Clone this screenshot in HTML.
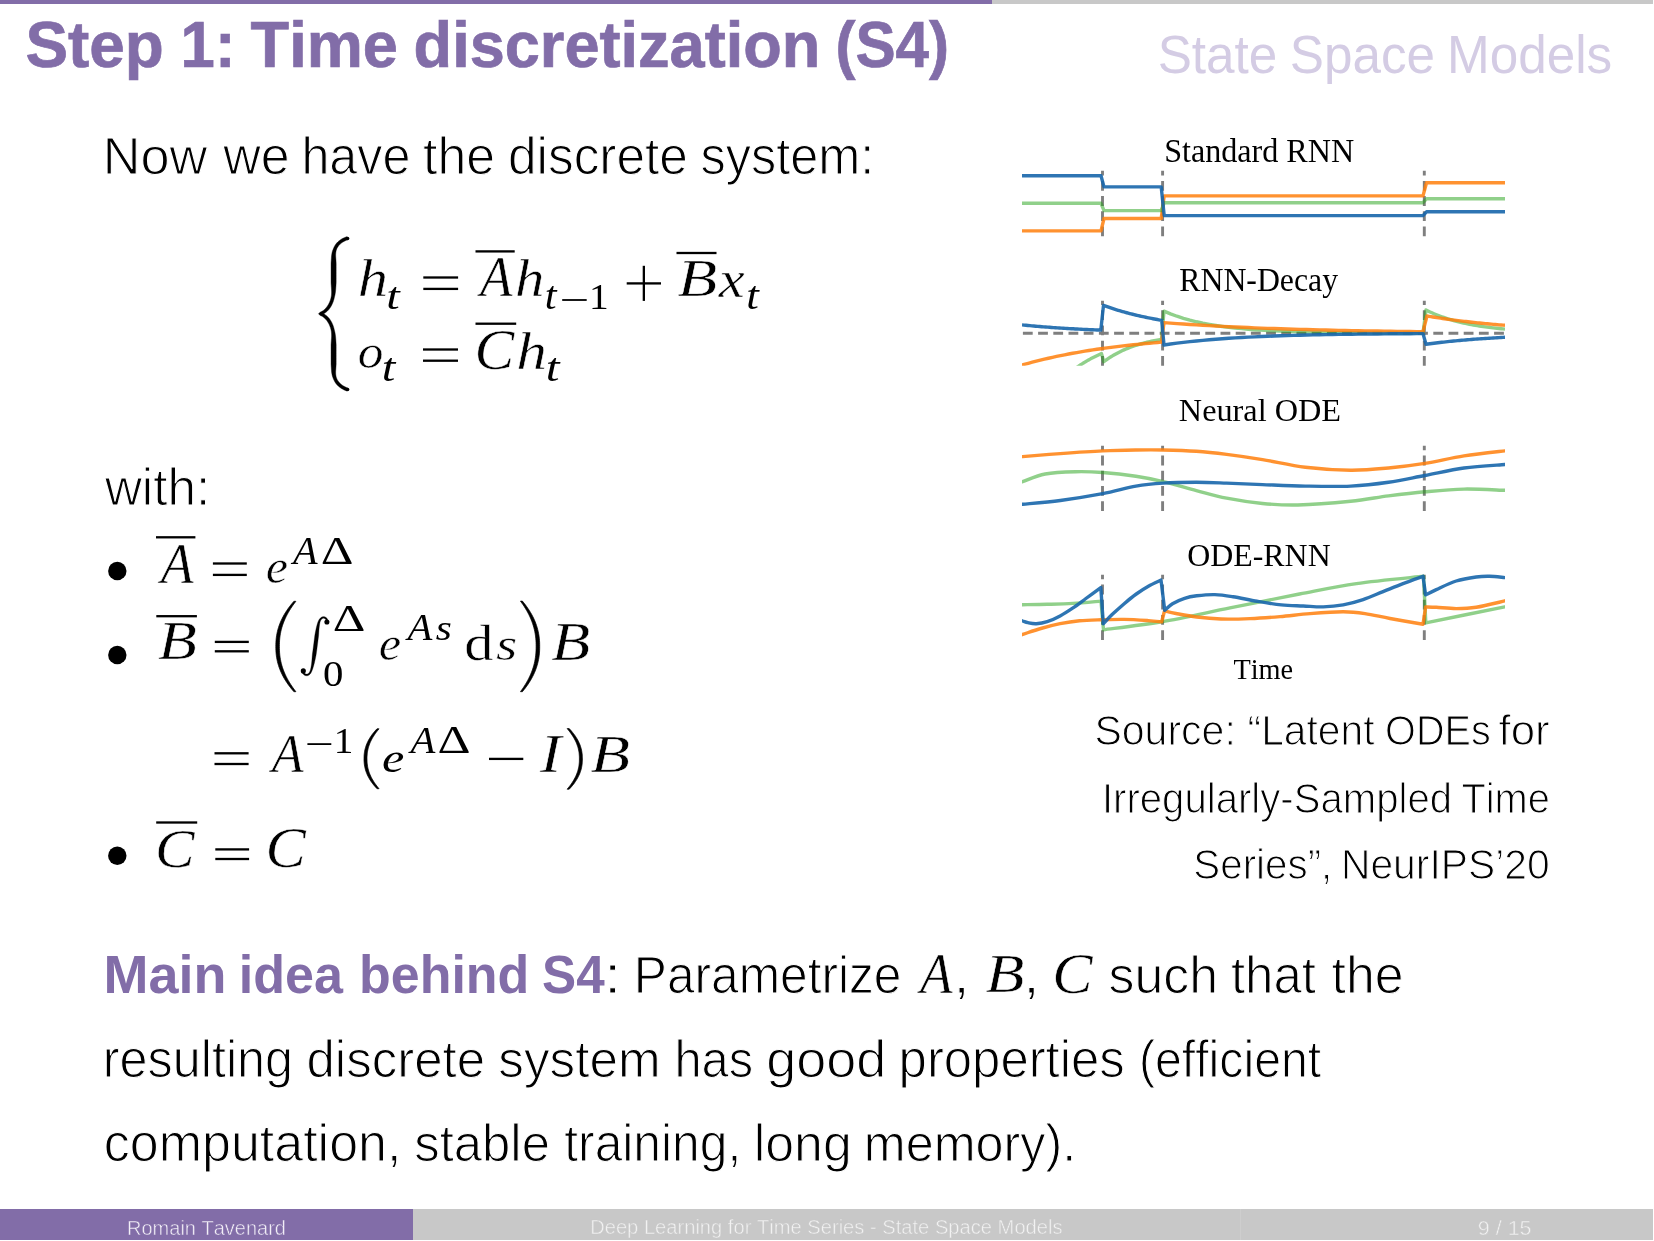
<!DOCTYPE html>
<html><head><meta charset="utf-8"><title>Step 1: Time discretization (S4)</title>
<style>
html,body{margin:0;padding:0;background:#fff;}
body{width:1654px;height:1241px;overflow:hidden;}
svg{display:block;will-change:transform;}
text{font-kerning:none;font-variant-ligatures:none;}
</style></head><body>
<svg width="1654" height="1241" viewBox="0 0 1654 1241">
<rect width="1654" height="1241" fill="#fff"/>
<rect x="0" y="0" width="992" height="4" fill="#826DA8"/>
<rect x="992" y="0" width="661" height="4" fill="#C8C8C8"/>
<rect x="0" y="1209" width="413" height="31" fill="#826DA8"/>
<rect x="413" y="1209" width="1240" height="31" fill="#C8C8C8"/>
<rect x="1240" y="1209" width="1" height="31" fill="#CECECE"/>
<text transform="translate(25.46,67.30) scale(0.9906,1)" font-family="'Liberation Sans', sans-serif" font-weight="bold" font-style="normal" font-size="64.50" fill="#826DA8" stroke="#826DA8" stroke-width="0.7">Step</text>
<text transform="translate(180.62,67.30) scale(0.9557,1)" font-family="'Liberation Sans', sans-serif" font-weight="bold" font-style="normal" font-size="64.50" fill="#826DA8" stroke="#826DA8" stroke-width="0.7">1:</text>
<text transform="translate(250.59,67.30) scale(0.9789,1)" font-family="'Liberation Sans', sans-serif" font-weight="bold" font-style="normal" font-size="64.50" fill="#826DA8" stroke="#826DA8" stroke-width="0.7">Time</text>
<text transform="translate(413.61,67.30) scale(0.9782,1)" font-family="'Liberation Sans', sans-serif" font-weight="bold" font-style="normal" font-size="64.50" fill="#826DA8" stroke="#826DA8" stroke-width="0.7">discretization</text>
<text transform="translate(835.40,67.30) scale(0.9339,1)" font-family="'Liberation Sans', sans-serif" font-weight="bold" font-style="normal" font-size="64.50" fill="#826DA8" stroke="#826DA8" stroke-width="0.7">(S4)</text>
<text transform="translate(1157.67,72.60) scale(0.9486,1)" font-family="'Liberation Sans', sans-serif" font-weight="normal" font-style="normal" font-size="54.00" fill="#D4CCE4">State</text>
<text transform="translate(1289.77,72.60) scale(0.9490,1)" font-family="'Liberation Sans', sans-serif" font-weight="normal" font-style="normal" font-size="54.00" fill="#D4CCE4">Space</text>
<text transform="translate(1446.99,72.60) scale(0.9493,1)" font-family="'Liberation Sans', sans-serif" font-weight="normal" font-style="normal" font-size="54.00" fill="#D4CCE4">Models</text>
<text transform="translate(127.06,1234.60) scale(0.9707,1)" font-family="'Liberation Sans', sans-serif" font-weight="normal" font-style="normal" font-size="20.60" fill="#F2EFF7" stroke="#826DA8" stroke-width="0.5">Romain Tavenard</text>
<text transform="translate(590.15,1233.70) scale(0.9876,1)" font-family="'Liberation Sans', sans-serif" font-weight="normal" font-style="normal" font-size="20.40" fill="#F2F2F2" stroke="#C8C8C8" stroke-width="0.5">Deep Learning for Time Series - State Space Models</text>
<text transform="translate(1477.69,1234.60) scale(1.0461,1)" font-family="'Liberation Sans', sans-serif" font-weight="normal" font-style="normal" font-size="20.60" fill="#F2F2F2" stroke="#C8C8C8" stroke-width="0.5">9 / 15</text>
<text transform="translate(102.81,174.00) scale(0.9956,1)" font-family="'Liberation Sans', sans-serif" font-weight="normal" font-style="normal" font-size="52.50" fill="#000" stroke="#fff" stroke-width="1.1">Now</text>
<text transform="translate(223.28,174.00) scale(0.9883,1)" font-family="'Liberation Sans', sans-serif" font-weight="normal" font-style="normal" font-size="52.50" fill="#000" stroke="#fff" stroke-width="1.1">we</text>
<text transform="translate(301.41,174.00) scale(0.9576,1)" font-family="'Liberation Sans', sans-serif" font-weight="normal" font-style="normal" font-size="52.50" fill="#000" stroke="#fff" stroke-width="1.1">have</text>
<text transform="translate(423.12,174.00) scale(0.9863,1)" font-family="'Liberation Sans', sans-serif" font-weight="normal" font-style="normal" font-size="52.50" fill="#000" stroke="#fff" stroke-width="1.1">the</text>
<text transform="translate(508.04,174.00) scale(0.9783,1)" font-family="'Liberation Sans', sans-serif" font-weight="normal" font-style="normal" font-size="52.50" fill="#000" stroke="#fff" stroke-width="1.1">discrete</text>
<text transform="translate(700.60,174.00) scale(0.9611,1)" font-family="'Liberation Sans', sans-serif" font-weight="normal" font-style="normal" font-size="52.50" fill="#000" stroke="#fff" stroke-width="1.1">system:</text>
<text transform="translate(104.88,505.30) scale(0.9755,1)" font-family="'Liberation Sans', sans-serif" font-weight="normal" font-style="normal" font-size="52.50" fill="#000" stroke="#fff" stroke-width="1.1">with:</text>
<text transform="translate(1094.44,745.20) scale(0.9655,1)" font-family="'Liberation Sans', sans-serif" font-weight="normal" font-style="normal" font-size="42.50" fill="#000" stroke="#fff" stroke-width="1.1">Source:</text>
<text transform="translate(1247.61,745.20) scale(0.9590,1)" font-family="'Liberation Sans', sans-serif" font-weight="normal" font-style="normal" font-size="42.50" fill="#000" stroke="#fff" stroke-width="1.1">“Latent</text>
<text transform="translate(1385.12,745.20) scale(0.9317,1)" font-family="'Liberation Sans', sans-serif" font-weight="normal" font-style="normal" font-size="42.50" fill="#000" stroke="#fff" stroke-width="1.1">ODEs</text>
<text transform="translate(1498.58,745.20) scale(1.0313,1)" font-family="'Liberation Sans', sans-serif" font-weight="normal" font-style="normal" font-size="42.50" fill="#000" stroke="#fff" stroke-width="1.1">for</text>
<text transform="translate(1101.90,812.60) scale(0.9443,1)" font-family="'Liberation Sans', sans-serif" font-weight="normal" font-style="normal" font-size="42.50" fill="#000" stroke="#fff" stroke-width="1.1">Irregularly-Sampled</text>
<text transform="translate(1461.41,812.60) scale(0.9367,1)" font-family="'Liberation Sans', sans-serif" font-weight="normal" font-style="normal" font-size="42.50" fill="#000" stroke="#fff" stroke-width="1.1">Time</text>
<text transform="translate(1193.27,879.20) scale(0.9497,1)" font-family="'Liberation Sans', sans-serif" font-weight="normal" font-style="normal" font-size="42.50" fill="#000" stroke="#fff" stroke-width="1.1">Series”,</text>
<text transform="translate(1340.95,879.20) scale(0.9605,1)" font-family="'Liberation Sans', sans-serif" font-weight="normal" font-style="normal" font-size="42.50" fill="#000" stroke="#fff" stroke-width="1.1">NeurIPS’20</text>
<text transform="translate(103.59,992.70) scale(1.0185,1)" font-family="'Liberation Sans', sans-serif" font-weight="bold" font-style="normal" font-size="53.00" fill="#826DA8">Main</text>
<text transform="translate(238.76,992.70) scale(0.9826,1)" font-family="'Liberation Sans', sans-serif" font-weight="bold" font-style="normal" font-size="53.00" fill="#826DA8">idea</text>
<text transform="translate(359.08,992.70) scale(0.9801,1)" font-family="'Liberation Sans', sans-serif" font-weight="bold" font-style="normal" font-size="53.00" fill="#826DA8">behind</text>
<text transform="translate(542.12,992.70) scale(0.9664,1)" font-family="'Liberation Sans', sans-serif" font-weight="bold" font-style="normal" font-size="53.00" fill="#826DA8">S4</text>
<text transform="translate(603.75,993.00) scale(1.2203,1)" font-family="'Liberation Sans', sans-serif" font-weight="normal" font-style="normal" font-size="52.50" fill="#000" stroke="#fff" stroke-width="1.1">:</text>
<text transform="translate(633.83,993.00) scale(0.9458,1)" font-family="'Liberation Sans', sans-serif" font-weight="normal" font-style="normal" font-size="52.50" fill="#000" stroke="#fff" stroke-width="1.1">Parametrize</text>
<text transform="translate(920.02,992.80) scale(0.9395,1)" font-family="'Liberation Serif', serif" font-weight="normal" font-style="italic" font-size="56.80" fill="#000" stroke="#fff" stroke-width="0.5">A</text>
<text transform="translate(953.58,993.00) scale(1.1062,1)" font-family="'Liberation Sans', sans-serif" font-weight="normal" font-style="normal" font-size="52.50" fill="#000" stroke="#fff" stroke-width="1.1">,</text>
<text transform="translate(985.41,992.24) scale(1.1762,1)" font-family="'Liberation Serif', serif" font-weight="normal" font-style="italic" font-size="54.13" fill="#000" stroke="#fff" stroke-width="0.5">B</text>
<text transform="translate(1023.29,993.00) scale(1.1256,1)" font-family="'Liberation Sans', sans-serif" font-weight="normal" font-style="normal" font-size="52.50" fill="#000" stroke="#fff" stroke-width="1.1">,</text>
<text transform="translate(1052.14,993.47) scale(1.0648,1)" font-family="'Liberation Serif', serif" font-weight="normal" font-style="italic" font-size="56.75" fill="#000" stroke="#fff" stroke-width="0.5">C</text>
<text transform="translate(1108.56,993.00) scale(0.9875,1)" font-family="'Liberation Sans', sans-serif" font-weight="normal" font-style="normal" font-size="52.50" fill="#000" stroke="#fff" stroke-width="1.1">such</text>
<text transform="translate(1230.93,993.00) scale(0.9700,1)" font-family="'Liberation Sans', sans-serif" font-weight="normal" font-style="normal" font-size="52.50" fill="#000" stroke="#fff" stroke-width="1.1">that</text>
<text transform="translate(1331.62,993.00) scale(0.9863,1)" font-family="'Liberation Sans', sans-serif" font-weight="normal" font-style="normal" font-size="52.50" fill="#000" stroke="#fff" stroke-width="1.1">the</text>
<text transform="translate(102.86,1077.00) scale(0.9589,1)" font-family="'Liberation Sans', sans-serif" font-weight="normal" font-style="normal" font-size="52.50" fill="#000" stroke="#fff" stroke-width="1.1">resulting</text>
<text transform="translate(306.46,1077.00) scale(0.9722,1)" font-family="'Liberation Sans', sans-serif" font-weight="normal" font-style="normal" font-size="52.50" fill="#000" stroke="#fff" stroke-width="1.1">discrete</text>
<text transform="translate(498.37,1077.00) scale(0.9755,1)" font-family="'Liberation Sans', sans-serif" font-weight="normal" font-style="normal" font-size="52.50" fill="#000" stroke="#fff" stroke-width="1.1">system</text>
<text transform="translate(674.41,1077.00) scale(0.9304,1)" font-family="'Liberation Sans', sans-serif" font-weight="normal" font-style="normal" font-size="52.50" fill="#000" stroke="#fff" stroke-width="1.1">has</text>
<text transform="translate(766.33,1077.00) scale(1.0278,1)" font-family="'Liberation Sans', sans-serif" font-weight="normal" font-style="normal" font-size="52.50" fill="#000" stroke="#fff" stroke-width="1.1">good</text>
<text transform="translate(898.62,1077.00) scale(0.9686,1)" font-family="'Liberation Sans', sans-serif" font-weight="normal" font-style="normal" font-size="52.50" fill="#000" stroke="#fff" stroke-width="1.1">properties</text>
<text transform="translate(1138.91,1077.00) scale(0.9190,1)" font-family="'Liberation Sans', sans-serif" font-weight="normal" font-style="normal" font-size="52.50" fill="#000" stroke="#fff" stroke-width="1.1">(efficient</text>
<text transform="translate(103.79,1161.00) scale(0.9903,1)" font-family="'Liberation Sans', sans-serif" font-weight="normal" font-style="normal" font-size="52.50" fill="#000" stroke="#fff" stroke-width="1.1">computation,</text>
<text transform="translate(414.28,1161.00) scale(0.9685,1)" font-family="'Liberation Sans', sans-serif" font-weight="normal" font-style="normal" font-size="52.50" fill="#000" stroke="#fff" stroke-width="1.1">stable</text>
<text transform="translate(564.25,1161.00) scale(0.9478,1)" font-family="'Liberation Sans', sans-serif" font-weight="normal" font-style="normal" font-size="52.50" fill="#000" stroke="#fff" stroke-width="1.1">training,</text>
<text transform="translate(753.71,1161.00) scale(0.9877,1)" font-family="'Liberation Sans', sans-serif" font-weight="normal" font-style="normal" font-size="52.50" fill="#000" stroke="#fff" stroke-width="1.1">long</text>
<text transform="translate(863.86,1161.00) scale(0.9579,1)" font-family="'Liberation Sans', sans-serif" font-weight="normal" font-style="normal" font-size="52.50" fill="#000" stroke="#fff" stroke-width="1.1">memory).</text>
<path d="M 347.12,236.67 L 346.54,236.86 L 345.94,237.06 L 345.35,237.28 L 344.76,237.51 L 344.18,237.75 L 343.60,238.01 L 343.04,238.28 L 342.47,238.57 L 341.92,238.87 L 341.38,239.19 L 340.84,239.53 L 340.32,239.88 L 339.80,240.25 L 339.29,240.63 L 338.80,241.03 L 338.32,241.45 L 337.85,241.89 L 337.39,242.35 L 336.95,242.82 L 336.52,243.31 L 336.11,243.82 L 335.72,244.34 L 335.34,244.89 L 334.98,245.45 L 334.63,246.04 L 334.31,246.64 L 334.00,247.26 L 333.72,247.90 L 333.44,248.55 L 333.16,249.21 L 332.89,249.89 L 332.65,250.60 L 332.42,251.32 L 332.22,252.07 L 332.03,252.84 L 331.87,253.63 L 331.73,254.44 L 331.62,255.27 L 331.53,256.12 L 331.46,256.99 L 331.35,258.60 L 331.24,260.20 L 331.13,261.80 L 331.05,263.40 L 331.05,265.00 L 331.05,266.60 L 331.05,268.20 L 331.05,269.80 L 331.05,271.40 L 331.05,273.00 L 331.05,274.60 L 331.05,276.20 L 331.05,277.80 L 331.05,279.40 L 331.05,281.00 L 331.05,282.60 L 331.13,284.20 L 331.24,285.80 L 331.35,287.40 L 331.46,288.99 L 331.51,289.96 L 331.55,290.90 L 331.56,291.83 L 331.55,292.74 L 331.52,293.64 L 331.47,294.52 L 331.40,295.38 L 331.30,296.23 L 331.16,297.06 L 330.98,297.86 L 330.77,298.64 L 330.55,299.41 L 330.31,300.15 L 330.06,300.88 L 329.79,301.58 L 329.50,302.26 L 329.21,302.93 L 328.89,303.57 L 328.57,304.19 L 328.23,304.79 L 327.88,305.37 L 327.52,305.93 L 327.14,306.47 L 326.76,306.99 L 326.36,307.48 L 325.96,307.96 L 325.55,308.41 L 325.12,308.84 L 324.69,309.25 L 324.32,309.71 L 323.87,310.07 L 323.41,310.42 L 322.95,310.74 L 322.48,311.04 L 322.01,311.32 L 321.53,311.57 L 321.04,311.80 L 320.55,312.01 L 320.06,312.20 L 318.50,313.80 L 320.06,315.40 L 320.55,315.59 L 321.04,315.80 L 321.53,316.03 L 322.01,316.28 L 322.49,316.56 L 322.96,316.85 L 323.42,317.17 L 323.87,317.52 L 324.32,317.88 L 324.70,318.34 L 325.13,318.74 L 325.55,319.17 L 325.96,319.62 L 326.37,320.09 L 326.76,320.58 L 327.15,321.09 L 327.52,321.63 L 327.88,322.18 L 328.23,322.76 L 328.57,323.36 L 328.90,323.97 L 329.21,324.61 L 329.51,325.27 L 329.79,325.95 L 330.06,326.65 L 330.31,327.37 L 330.55,328.11 L 330.77,328.88 L 330.98,329.66 L 331.16,330.45 L 331.30,331.28 L 331.40,332.13 L 331.47,332.99 L 331.52,333.87 L 331.55,334.76 L 331.56,335.68 L 331.55,336.60 L 331.51,337.54 L 331.46,338.51 L 331.35,340.10 L 331.24,341.70 L 331.13,343.30 L 331.05,344.90 L 331.05,346.50 L 331.05,348.10 L 331.05,349.70 L 331.05,351.30 L 331.05,352.90 L 331.05,354.50 L 331.05,356.10 L 331.05,357.70 L 331.05,359.30 L 331.05,360.90 L 331.05,362.50 L 331.05,364.10 L 331.13,365.70 L 331.24,367.30 L 331.35,368.90 L 331.46,370.51 L 331.53,371.38 L 331.62,372.23 L 331.73,373.06 L 331.87,373.87 L 332.03,374.66 L 332.22,375.43 L 332.42,376.18 L 332.65,376.90 L 332.89,377.61 L 333.16,378.29 L 333.44,378.96 L 333.71,379.61 L 334.00,380.25 L 334.31,380.87 L 334.63,381.48 L 334.97,382.06 L 335.33,382.63 L 335.71,383.18 L 336.11,383.71 L 336.52,384.22 L 336.94,384.72 L 337.38,385.19 L 337.84,385.66 L 338.31,386.10 L 338.79,386.53 L 339.28,386.94 L 339.78,387.33 L 340.30,387.71 L 340.82,388.07 L 341.35,388.42 L 341.89,388.75 L 342.44,389.07 L 343.00,389.37 L 343.57,389.66 L 344.14,389.93 L 344.72,390.20 L 345.30,390.44 L 345.89,390.68 L 346.48,390.90 L 347.07,391.11 L 348.13,388.09 L 347.58,387.90 L 347.05,387.70 L 346.52,387.49 L 346.00,387.27 L 345.49,387.03 L 344.99,386.79 L 344.49,386.54 L 344.01,386.27 L 343.53,386.00 L 343.06,385.71 L 342.60,385.41 L 342.15,385.10 L 341.72,384.78 L 341.29,384.45 L 340.87,384.10 L 340.47,383.74 L 340.08,383.37 L 339.70,382.99 L 339.34,382.59 L 338.98,382.18 L 338.64,381.75 L 338.32,381.31 L 338.00,380.86 L 337.70,380.39 L 337.42,379.91 L 337.15,379.41 L 336.90,378.89 L 336.66,378.36 L 336.45,377.81 L 336.28,377.23 L 336.13,376.63 L 336.01,376.02 L 335.90,375.39 L 335.81,374.74 L 335.75,374.08 L 335.70,373.40 L 335.68,372.70 L 335.68,371.99 L 335.70,371.25 L 335.74,370.49 L 335.85,368.90 L 335.96,367.30 L 336.07,365.70 L 336.15,364.10 L 336.15,362.50 L 336.15,360.90 L 336.15,359.30 L 336.15,357.70 L 336.15,356.10 L 336.15,354.50 L 336.15,352.90 L 336.15,351.30 L 336.15,349.70 L 336.15,348.10 L 336.15,346.50 L 336.15,344.90 L 336.07,343.30 L 335.96,341.70 L 335.85,340.10 L 335.74,338.49 L 335.66,337.45 L 335.56,336.42 L 335.44,335.41 L 335.29,334.42 L 335.13,333.44 L 334.94,332.49 L 334.73,331.57 L 334.51,330.66 L 334.29,329.76 L 334.08,328.88 L 333.86,328.02 L 333.61,327.18 L 333.34,326.35 L 333.06,325.55 L 332.76,324.76 L 332.44,324.00 L 332.10,323.25 L 331.75,322.53 L 331.38,321.82 L 330.99,321.14 L 330.59,320.48 L 330.17,319.84 L 329.74,319.22 L 329.29,318.62 L 328.83,318.04 L 328.35,317.49 L 327.86,316.96 L 327.36,316.45 L 326.85,315.97 L 326.25,315.58 L 325.72,315.15 L 325.17,314.74 L 324.61,314.35 L 324.04,313.99 L 323.46,313.66 L 322.88,313.35 L 322.28,313.06 L 321.67,312.80 L 321.06,312.57 L 321.50,313.80 L 321.06,315.03 L 321.68,314.80 L 322.28,314.54 L 322.88,314.25 L 323.47,313.94 L 324.05,313.60 L 324.62,313.24 L 325.17,312.85 L 325.72,312.44 L 326.26,312.00 L 326.85,311.61 L 327.37,311.12 L 327.87,310.61 L 328.36,310.08 L 328.83,309.52 L 329.29,308.94 L 329.74,308.34 L 330.18,307.72 L 330.59,307.07 L 330.99,306.41 L 331.38,305.72 L 331.75,305.01 L 332.10,304.28 L 332.44,303.53 L 332.76,302.77 L 333.06,301.98 L 333.35,301.17 L 333.61,300.34 L 333.86,299.50 L 334.08,298.63 L 334.29,297.75 L 334.51,296.85 L 334.73,295.94 L 334.94,295.01 L 335.12,294.06 L 335.29,293.09 L 335.44,292.09 L 335.56,291.08 L 335.66,290.05 L 335.74,289.01 L 335.85,287.40 L 335.96,285.80 L 336.07,284.20 L 336.15,282.60 L 336.15,281.00 L 336.15,279.40 L 336.15,277.80 L 336.15,276.20 L 336.15,274.60 L 336.15,273.00 L 336.15,271.40 L 336.15,269.80 L 336.15,268.20 L 336.15,266.60 L 336.15,265.00 L 336.15,263.40 L 336.07,261.80 L 335.96,260.20 L 335.85,258.60 L 335.74,257.01 L 335.70,256.25 L 335.68,255.51 L 335.68,254.80 L 335.70,254.10 L 335.75,253.42 L 335.81,252.76 L 335.90,252.11 L 336.01,251.49 L 336.13,250.87 L 336.28,250.28 L 336.45,249.70 L 336.66,249.15 L 336.90,248.62 L 337.15,248.11 L 337.42,247.61 L 337.70,247.13 L 338.00,246.67 L 338.31,246.22 L 338.64,245.78 L 338.98,245.37 L 339.33,244.96 L 339.69,244.57 L 340.07,244.20 L 340.46,243.83 L 340.86,243.48 L 341.27,243.15 L 341.70,242.82 L 342.13,242.51 L 342.58,242.21 L 343.04,241.93 L 343.50,241.66 L 343.98,241.40 L 344.46,241.15 L 344.95,240.91 L 345.45,240.68 L 345.96,240.47 L 346.48,240.27 L 347.00,240.08 L 347.53,239.90 L 348.08,239.73 Z" fill="#000" stroke="#000" stroke-width="0.4" stroke-linejoin="round"/>
<circle cx="347.6" cy="238.39999999999998" r="1.75" fill="#000"/><circle cx="347.6" cy="389.40000000000003" r="1.75" fill="#000"/>
<text transform="translate(357.71,296.40) scale(1.1490,1)" font-family="'Liberation Serif', serif" font-weight="normal" font-style="italic" font-size="52.75" fill="#000" stroke="#fff" stroke-width="0.5">h</text>
<text transform="translate(386.37,308.63) scale(1.2845,1)" font-family="'Liberation Serif', serif" font-weight="normal" font-style="italic" font-size="37.71" fill="#000">t</text>
<rect x="423.30" y="276.35" width="34.80" height="2.30" fill="#000"/>
<rect x="423.30" y="287.75" width="34.80" height="2.30" fill="#000"/>
<rect x="475.50" y="250.25" width="39.20" height="2.30" fill="#000"/>
<text transform="translate(479.90,296.40) scale(0.9367,1)" font-family="'Liberation Serif', serif" font-weight="normal" font-style="italic" font-size="56.65" fill="#000" stroke="#fff" stroke-width="0.5">A</text>
<text transform="translate(514.88,296.40) scale(1.1131,1)" font-family="'Liberation Serif', serif" font-weight="normal" font-style="italic" font-size="52.75" fill="#000" stroke="#fff" stroke-width="0.5">h</text>
<text transform="translate(544.83,308.61) scale(1.0592,1)" font-family="'Liberation Serif', serif" font-weight="normal" font-style="italic" font-size="40.16" fill="#000">t</text>
<rect x="562.20" y="299.10" width="24.50" height="1.80" fill="#000"/>
<text transform="translate(588.93,308.70) scale(1.0998,1)" font-family="'Liberation Serif', serif" font-weight="normal" font-style="normal" font-size="35.90" fill="#000">1</text>
<rect x="626.70" y="282.25" width="34.30" height="2.30" fill="#000"/>
<rect x="642.7" y="265.8" width="2.3" height="35.1" fill="#000"/>
<rect x="676.50" y="251.85" width="40.00" height="2.30" fill="#000"/>
<text transform="translate(677.40,296.34) scale(1.2294,1)" font-family="'Liberation Serif', serif" font-weight="normal" font-style="italic" font-size="52.91" fill="#000" stroke="#fff" stroke-width="0.5">B</text>
<text transform="translate(718.71,296.90) scale(1.1213,1)" font-family="'Liberation Serif', serif" font-weight="normal" font-style="italic" font-size="52.07" fill="#000" stroke="#fff" stroke-width="0.5">x</text>
<text transform="translate(746.31,308.61) scale(1.1279,1)" font-family="'Liberation Serif', serif" font-weight="normal" font-style="italic" font-size="40.16" fill="#000">t</text>
<text transform="translate(357.87,367.82) scale(1.0457,1)" font-family="'Liberation Serif', serif" font-weight="normal" font-style="italic" font-size="49.07" fill="#000" stroke="#fff" stroke-width="0.5">o</text>
<text transform="translate(381.85,380.62) scale(1.2432,1)" font-family="'Liberation Serif', serif" font-weight="normal" font-style="italic" font-size="39.28" fill="#000">t</text>
<rect x="423.00" y="348.35" width="35.00" height="2.30" fill="#000"/>
<rect x="423.00" y="359.55" width="35.00" height="2.30" fill="#000"/>
<rect x="475.50" y="322.55" width="40.70" height="2.30" fill="#000"/>
<text transform="translate(474.38,368.88) scale(1.0617,1)" font-family="'Liberation Serif', serif" font-weight="normal" font-style="italic" font-size="56.15" fill="#000" stroke="#fff" stroke-width="0.5">C</text>
<text transform="translate(516.18,368.60) scale(1.1852,1)" font-family="'Liberation Serif', serif" font-weight="normal" font-style="italic" font-size="51.74" fill="#000" stroke="#fff" stroke-width="0.5">h</text>
<text transform="translate(545.82,380.62) scale(1.2632,1)" font-family="'Liberation Serif', serif" font-weight="normal" font-style="italic" font-size="39.28" fill="#000">t</text>
<circle cx="117.3" cy="571" r="9.2" fill="#000"/>
<circle cx="117.3" cy="655" r="9.2" fill="#000"/>
<circle cx="117.3" cy="855.7" r="9.2" fill="#000"/>
<rect x="156.00" y="536.15" width="39.40" height="2.30" fill="#000"/>
<text transform="translate(160.74,582.60) scale(0.9576,1)" font-family="'Liberation Serif', serif" font-weight="normal" font-style="italic" font-size="56.20" fill="#000" stroke="#fff" stroke-width="0.5">A</text>
<rect x="212.90" y="562.35" width="33.90" height="2.30" fill="#000"/>
<rect x="212.90" y="573.75" width="33.90" height="2.30" fill="#000"/>
<text transform="translate(265.66,582.52) scale(1.0226,1)" font-family="'Liberation Serif', serif" font-weight="normal" font-style="italic" font-size="49.07" fill="#000" stroke="#fff" stroke-width="0.5">e</text>
<text transform="translate(293.10,564.00) scale(0.9943,1)" font-family="'Liberation Serif', serif" font-weight="normal" font-style="italic" font-size="40.44" fill="#000">A</text>
<text transform="translate(320.76,564.00) scale(1.2454,1)" font-family="'Liberation Serif', serif" font-weight="normal" font-style="normal" font-size="40.90" fill="#000">Δ</text>
<rect x="156.30" y="615.05" width="40.60" height="2.30" fill="#000"/>
<text transform="translate(158.11,659.34) scale(1.1795,1)" font-family="'Liberation Serif', serif" font-weight="normal" font-style="italic" font-size="53.97" fill="#000" stroke="#fff" stroke-width="0.5">B</text>
<rect x="214.80" y="640.75" width="34.00" height="2.30" fill="#000"/>
<rect x="214.80" y="650.15" width="34.00" height="2.30" fill="#000"/>
<path d="M 293.90,601.30 L 292.28,603.18 L 290.75,605.07 L 289.29,606.95 L 287.92,608.83 L 286.63,610.72 L 285.41,612.60 L 284.28,614.48 L 283.22,616.37 L 282.24,618.25 L 281.33,620.13 L 280.50,622.02 L 279.74,623.90 L 279.05,625.78 L 278.44,627.67 L 277.89,629.55 L 277.41,631.43 L 277.00,633.32 L 276.66,635.20 L 276.37,637.08 L 276.15,638.97 L 275.99,640.85 L 275.88,642.73 L 275.82,644.62 L 275.80,646.50 L 275.82,648.38 L 275.88,650.27 L 275.99,652.15 L 276.15,654.03 L 276.37,655.92 L 276.66,657.80 L 277.00,659.68 L 277.41,661.57 L 277.89,663.45 L 278.44,665.33 L 279.05,667.22 L 279.74,669.10 L 280.50,670.98 L 281.33,672.87 L 282.24,674.75 L 283.22,676.63 L 284.28,678.52 L 285.41,680.40 L 286.63,682.28 L 287.92,684.17 L 289.29,686.05 L 290.75,687.93 L 292.28,689.82 L 293.90,691.70 L 295.90,691.70 L 294.46,689.82 L 293.09,687.93 L 291.78,686.05 L 290.54,684.17 L 289.37,682.28 L 288.26,680.40 L 287.22,678.52 L 286.25,676.63 L 285.35,674.75 L 284.51,672.87 L 283.74,670.98 L 283.03,669.10 L 282.39,667.22 L 281.82,665.33 L 281.32,663.45 L 280.87,661.57 L 280.49,659.68 L 280.17,657.80 L 279.91,655.92 L 279.71,654.03 L 279.56,652.15 L 279.47,650.27 L 279.41,648.38 L 279.40,646.50 L 279.41,644.62 L 279.47,642.73 L 279.56,640.85 L 279.71,638.97 L 279.91,637.08 L 280.17,635.20 L 280.49,633.32 L 280.87,631.43 L 281.32,629.55 L 281.82,627.67 L 282.39,625.78 L 283.03,623.90 L 283.74,622.02 L 284.51,620.13 L 285.35,618.25 L 286.25,616.37 L 287.22,614.48 L 288.26,612.60 L 289.37,610.72 L 290.54,608.83 L 291.78,606.95 L 293.09,605.07 L 294.46,603.18 L 295.90,601.30 Z" fill="#000" stroke="#000" stroke-width="0.7" stroke-linejoin="round"/>
<path d="M 301.90,672.08 L 301.98,672.20 L 302.08,672.36 L 302.21,672.57 L 302.35,672.82 L 302.52,673.09 L 302.70,673.38 L 302.89,673.67 L 303.10,673.97 L 303.33,674.26 L 303.57,674.53 L 303.84,674.79 L 304.13,675.01 L 304.40,675.17 L 304.68,675.31 L 304.97,675.44 L 305.26,675.55 L 305.57,675.64 L 305.89,675.72 L 306.21,675.77 L 306.54,675.79 L 306.88,675.79 L 307.22,675.76 L 307.55,675.70 L 307.88,675.60 L 308.17,675.49 L 308.45,675.37 L 308.74,675.22 L 309.03,675.05 L 309.31,674.85 L 309.60,674.63 L 309.88,674.37 L 310.15,674.09 L 310.42,673.76 L 310.68,673.41 L 310.92,673.02 L 311.16,672.59 L 311.38,672.14 L 311.59,671.67 L 311.80,671.17 L 312.02,670.66 L 312.25,670.11 L 312.47,669.53 L 312.69,668.92 L 312.91,668.27 L 313.13,667.58 L 313.36,666.85 L 313.58,666.07 L 313.81,665.25 L 314.05,664.37 L 314.28,663.42 L 314.52,662.41 L 314.76,661.37 L 315.00,660.28 L 315.24,659.16 L 315.48,658.02 L 315.72,656.87 L 315.96,655.71 L 316.16,654.55 L 316.32,653.40 L 316.48,652.26 L 316.64,651.11 L 316.80,649.93 L 316.96,648.73 L 317.11,647.52 L 317.27,646.30 L 317.42,645.08 L 317.57,643.87 L 317.72,642.68 L 317.87,641.51 L 318.01,640.38 L 318.15,639.29 L 318.28,638.24 L 318.41,637.23 L 318.54,636.24 L 318.64,635.27 L 318.69,634.33 L 318.75,633.41 L 318.80,632.52 L 318.85,631.65 L 318.90,630.82 L 318.96,630.01 L 319.03,629.23 L 319.10,628.48 L 319.18,627.75 L 319.26,627.04 L 319.35,626.34 L 319.43,625.68 L 319.52,625.04 L 319.62,624.43 L 319.71,623.85 L 319.82,623.30 L 319.93,622.78 L 320.05,622.29 L 320.17,621.84 L 320.31,621.41 L 320.46,621.02 L 320.62,620.65 L 320.79,620.32 L 320.98,620.01 L 321.17,619.72 L 321.38,619.46 L 321.60,619.24 L 321.82,619.04 L 322.04,618.87 L 322.27,618.71 L 322.48,618.59 L 322.69,618.48 L 322.88,618.40 L 323.05,618.35 L 323.22,618.33 L 323.42,618.32 L 323.63,618.33 L 323.85,618.36 L 324.08,618.42 L 324.31,618.49 L 324.54,618.57 L 324.76,618.66 L 324.96,618.77 L 325.14,618.88 L 325.28,618.97 L 325.37,619.05 L 325.47,619.18 L 325.58,619.34 L 325.69,619.55 L 325.78,619.79 L 325.87,620.04 L 325.95,620.29 L 326.03,620.54 L 326.10,620.79 L 326.17,621.02 L 326.24,621.24 L 326.31,621.40 L 328.09,620.60 L 328.03,620.49 L 327.97,620.35 L 327.88,620.15 L 327.78,619.91 L 327.66,619.64 L 327.53,619.35 L 327.38,619.05 L 327.21,618.75 L 327.03,618.45 L 326.83,618.16 L 326.59,617.87 L 326.32,617.63 L 326.05,617.44 L 325.78,617.28 L 325.49,617.13 L 325.18,616.99 L 324.85,616.87 L 324.52,616.77 L 324.17,616.69 L 323.81,616.64 L 323.44,616.62 L 323.06,616.63 L 322.68,616.69 L 322.32,616.80 L 321.99,616.94 L 321.67,617.09 L 321.35,617.28 L 321.04,617.50 L 320.73,617.74 L 320.43,618.01 L 320.13,618.31 L 319.84,618.63 L 319.55,618.97 L 319.27,619.35 L 319.00,619.75 L 318.74,620.18 L 318.50,620.64 L 318.28,621.13 L 318.07,621.64 L 317.87,622.17 L 317.67,622.73 L 317.49,623.31 L 317.31,623.91 L 317.13,624.53 L 316.95,625.18 L 316.78,625.85 L 316.60,626.54 L 316.42,627.25 L 316.24,628.00 L 316.07,628.77 L 315.90,629.57 L 315.73,630.39 L 315.57,631.23 L 315.40,632.10 L 315.24,632.98 L 315.07,633.89 L 314.90,634.82 L 314.77,635.77 L 314.64,636.75 L 314.52,637.76 L 314.38,638.81 L 314.24,639.90 L 314.10,641.04 L 313.95,642.21 L 313.80,643.40 L 313.65,644.61 L 313.50,645.82 L 313.35,647.04 L 313.19,648.24 L 313.03,649.43 L 312.88,650.60 L 312.72,651.74 L 312.56,652.87 L 312.40,654.03 L 312.28,655.20 L 312.19,656.37 L 312.10,657.54 L 312.01,658.69 L 311.92,659.81 L 311.82,660.90 L 311.72,661.95 L 311.61,662.94 L 311.50,663.88 L 311.39,664.75 L 311.27,665.56 L 311.15,666.33 L 311.02,667.05 L 310.89,667.73 L 310.76,668.37 L 310.63,668.97 L 310.49,669.53 L 310.35,670.05 L 310.20,670.55 L 310.02,671.00 L 309.83,671.42 L 309.64,671.81 L 309.45,672.16 L 309.26,672.46 L 309.07,672.73 L 308.88,672.96 L 308.69,673.16 L 308.50,673.33 L 308.31,673.48 L 308.12,673.62 L 307.92,673.73 L 307.72,673.83 L 307.52,673.92 L 307.32,674.00 L 307.15,674.05 L 306.98,674.08 L 306.80,674.10 L 306.61,674.10 L 306.41,674.08 L 306.21,674.05 L 306.01,674.00 L 305.80,673.94 L 305.60,673.86 L 305.41,673.78 L 305.23,673.69 L 305.07,673.59 L 304.94,673.50 L 304.80,673.36 L 304.64,673.17 L 304.47,672.96 L 304.30,672.71 L 304.13,672.46 L 303.96,672.20 L 303.81,671.94 L 303.67,671.70 L 303.53,671.48 L 303.41,671.28 L 303.30,671.12 Z" fill="#000" stroke="#000" stroke-width="0.3" stroke-linejoin="round"/>
<circle cx="326.9" cy="622.0" r="2.55" fill="#000"/><circle cx="303.3" cy="670.9" r="2.55" fill="#000"/>
<text transform="translate(323.05,685.85) scale(1.1289,1)" font-family="'Liberation Serif', serif" font-weight="normal" font-style="normal" font-size="36.16" fill="#000">0</text>
<text transform="translate(332.87,630.80) scale(1.3090,1)" font-family="'Liberation Serif', serif" font-weight="normal" font-style="normal" font-size="38.78" fill="#000">Δ</text>
<text transform="translate(378.65,659.52) scale(1.0366,1)" font-family="'Liberation Serif', serif" font-weight="normal" font-style="italic" font-size="48.65" fill="#000" stroke="#fff" stroke-width="0.5">e</text>
<text transform="translate(407.42,640.30) scale(1.0780,1)" font-family="'Liberation Serif', serif" font-weight="normal" font-style="italic" font-size="37.72" fill="#000">A</text>
<text transform="translate(435.70,640.16) scale(1.1809,1)" font-family="'Liberation Serif', serif" font-weight="normal" font-style="italic" font-size="34.93" fill="#000">s</text>
<text transform="translate(464.29,659.50) scale(1.1330,1)" font-family="'Liberation Serif', serif" font-weight="normal" font-style="normal" font-size="51.59" fill="#000" stroke="#fff" stroke-width="0.5">d</text>
<text transform="translate(495.93,659.54) scale(1.1551,1)" font-family="'Liberation Serif', serif" font-weight="normal" font-style="italic" font-size="47.20" fill="#000" stroke="#fff" stroke-width="0.5">s</text>
<path d="M 522.40,601.10 L 523.95,602.99 L 525.41,604.87 L 526.80,606.76 L 528.12,608.65 L 529.35,610.54 L 530.51,612.42 L 531.60,614.31 L 532.61,616.20 L 533.55,618.09 L 534.41,619.97 L 535.21,621.86 L 535.93,623.75 L 536.59,625.64 L 537.18,627.52 L 537.70,629.41 L 538.16,631.30 L 538.55,633.19 L 538.88,635.07 L 539.15,636.96 L 539.36,638.85 L 539.52,640.74 L 539.63,642.62 L 539.68,644.51 L 539.70,646.40 L 539.68,648.29 L 539.63,650.17 L 539.52,652.06 L 539.36,653.95 L 539.15,655.84 L 538.88,657.73 L 538.55,659.61 L 538.16,661.50 L 537.70,663.39 L 537.18,665.27 L 536.59,667.16 L 535.93,669.05 L 535.21,670.94 L 534.41,672.83 L 533.55,674.71 L 532.61,676.60 L 531.60,678.49 L 530.51,680.38 L 529.35,682.26 L 528.12,684.15 L 526.80,686.04 L 525.41,687.93 L 523.95,689.81 L 522.40,691.70 L 520.44,691.70 L 521.81,689.81 L 523.11,687.93 L 524.35,686.04 L 525.53,684.15 L 526.65,682.26 L 527.70,680.38 L 528.69,678.49 L 529.61,676.60 L 530.47,674.71 L 531.26,672.83 L 531.99,670.94 L 532.66,669.05 L 533.26,667.16 L 533.81,665.27 L 534.29,663.39 L 534.71,661.50 L 535.07,659.61 L 535.37,657.73 L 535.61,655.84 L 535.81,653.95 L 535.95,652.06 L 536.04,650.17 L 536.09,648.29 L 536.10,646.40 L 536.09,644.51 L 536.04,642.62 L 535.95,640.74 L 535.81,638.85 L 535.61,636.96 L 535.37,635.07 L 535.07,633.19 L 534.71,631.30 L 534.29,629.41 L 533.81,627.52 L 533.26,625.64 L 532.66,623.75 L 531.99,621.86 L 531.26,619.97 L 530.47,618.09 L 529.61,616.20 L 528.69,614.31 L 527.70,612.42 L 526.65,610.54 L 525.53,608.65 L 524.35,606.76 L 523.11,604.87 L 521.81,602.99 L 520.44,601.10 Z" fill="#000" stroke="#000" stroke-width="0.7" stroke-linejoin="round"/>
<text transform="translate(551.21,659.84) scale(1.1827,1)" font-family="'Liberation Serif', serif" font-weight="normal" font-style="italic" font-size="53.97" fill="#000" stroke="#fff" stroke-width="0.5">B</text>
<rect x="214.50" y="752.15" width="34.10" height="2.30" fill="#000"/>
<rect x="214.50" y="762.85" width="34.10" height="2.30" fill="#000"/>
<text transform="translate(271.84,772.10) scale(0.9358,1)" font-family="'Liberation Serif', serif" font-weight="normal" font-style="italic" font-size="55.59" fill="#000" stroke="#fff" stroke-width="0.5">A</text>
<rect x="307.40" y="743.20" width="23.90" height="1.80" fill="#000"/>
<text transform="translate(333.75,753.30) scale(1.0919,1)" font-family="'Liberation Serif', serif" font-weight="normal" font-style="normal" font-size="35.90" fill="#000">1</text>
<path d="M 377.00,728.80 L 375.84,730.05 L 374.74,731.30 L 373.69,732.54 L 372.70,733.79 L 371.78,735.04 L 370.90,736.29 L 370.09,737.54 L 369.33,738.78 L 368.62,740.03 L 367.97,741.28 L 367.37,742.53 L 366.83,743.77 L 366.34,745.02 L 365.89,746.27 L 365.50,747.52 L 365.16,748.77 L 364.86,750.01 L 364.62,751.26 L 364.41,752.51 L 364.25,753.76 L 364.13,755.01 L 364.05,756.25 L 364.01,757.50 L 364.00,758.75 L 364.01,760.00 L 364.05,761.25 L 364.13,762.49 L 364.25,763.74 L 364.41,764.99 L 364.62,766.24 L 364.86,767.49 L 365.16,768.73 L 365.50,769.98 L 365.89,771.23 L 366.34,772.48 L 366.83,773.73 L 367.37,774.97 L 367.97,776.22 L 368.62,777.47 L 369.33,778.72 L 370.09,779.96 L 370.90,781.21 L 371.78,782.46 L 372.70,783.71 L 373.69,784.96 L 374.74,786.20 L 375.84,787.45 L 377.00,788.70 L 379.07,788.70 L 378.03,787.45 L 377.03,786.20 L 376.08,784.96 L 375.17,783.71 L 374.32,782.46 L 373.51,781.21 L 372.75,779.96 L 372.03,778.72 L 371.37,777.47 L 370.76,776.22 L 370.19,774.97 L 369.67,773.73 L 369.20,772.48 L 368.78,771.23 L 368.41,769.98 L 368.08,768.73 L 367.80,767.49 L 367.57,766.24 L 367.38,764.99 L 367.23,763.74 L 367.12,762.49 L 367.05,761.25 L 367.01,760.00 L 367.00,758.75 L 367.01,757.50 L 367.05,756.25 L 367.12,755.01 L 367.23,753.76 L 367.38,752.51 L 367.57,751.26 L 367.80,750.01 L 368.08,748.77 L 368.41,747.52 L 368.78,746.27 L 369.20,745.02 L 369.67,743.77 L 370.19,742.53 L 370.76,741.28 L 371.37,740.03 L 372.03,738.78 L 372.75,737.54 L 373.51,736.29 L 374.32,735.04 L 375.17,733.79 L 376.08,732.54 L 377.03,731.30 L 378.03,730.05 L 379.07,728.80 Z" fill="#000" stroke="#000" stroke-width="0.7" stroke-linejoin="round"/>
<text transform="translate(382.06,771.58) scale(1.1715,1)" font-family="'Liberation Serif', serif" font-weight="normal" font-style="italic" font-size="42.83" fill="#000">e</text>
<text transform="translate(410.52,753.00) scale(1.0485,1)" font-family="'Liberation Serif', serif" font-weight="normal" font-style="italic" font-size="38.78" fill="#000">A</text>
<text transform="translate(437.54,752.90) scale(1.3168,1)" font-family="'Liberation Serif', serif" font-weight="normal" font-style="normal" font-size="39.08" fill="#000">Δ</text>
<rect x="489.00" y="757.75" width="34.30" height="2.30" fill="#000"/>
<text transform="translate(540.05,772.00) scale(1.1939,1)" font-family="'Liberation Serif', serif" font-weight="normal" font-style="italic" font-size="53.91" fill="#000" stroke="#fff" stroke-width="0.5">I</text>
<path d="M 569.20,728.60 L 570.38,729.86 L 571.50,731.12 L 572.56,732.39 L 573.56,733.65 L 574.50,734.91 L 575.39,736.17 L 576.22,737.44 L 576.99,738.70 L 577.71,739.96 L 578.37,741.22 L 578.97,742.49 L 579.53,743.75 L 580.03,745.01 L 580.48,746.27 L 580.87,747.54 L 581.22,748.80 L 581.52,750.06 L 581.77,751.32 L 581.98,752.59 L 582.14,753.85 L 582.26,755.11 L 582.34,756.38 L 582.39,757.64 L 582.40,758.90 L 582.39,760.16 L 582.34,761.42 L 582.26,762.69 L 582.14,763.95 L 581.98,765.21 L 581.77,766.48 L 581.52,767.74 L 581.22,769.00 L 580.87,770.26 L 580.48,771.52 L 580.03,772.79 L 579.53,774.05 L 578.97,775.31 L 578.37,776.58 L 577.71,777.84 L 576.99,779.10 L 576.22,780.36 L 575.39,781.62 L 574.50,782.89 L 573.56,784.15 L 572.56,785.41 L 571.50,786.68 L 570.38,787.94 L 569.20,789.20 L 567.12,789.20 L 568.19,787.94 L 569.20,786.68 L 570.17,785.41 L 571.09,784.15 L 571.96,782.89 L 572.78,781.62 L 573.56,780.36 L 574.28,779.10 L 574.96,777.84 L 575.58,776.58 L 576.16,775.31 L 576.68,774.05 L 577.16,772.79 L 577.59,771.52 L 577.97,770.26 L 578.30,769.00 L 578.58,767.74 L 578.82,766.48 L 579.02,765.21 L 579.17,763.95 L 579.28,762.69 L 579.35,761.42 L 579.39,760.16 L 579.40,758.90 L 579.39,757.64 L 579.35,756.38 L 579.28,755.11 L 579.17,753.85 L 579.02,752.59 L 578.82,751.32 L 578.58,750.06 L 578.30,748.80 L 577.97,747.54 L 577.59,746.27 L 577.16,745.01 L 576.68,743.75 L 576.16,742.49 L 575.58,741.22 L 574.96,739.96 L 574.28,738.70 L 573.56,737.44 L 572.78,736.17 L 571.96,734.91 L 571.09,733.65 L 570.17,732.39 L 569.20,731.12 L 568.19,729.86 L 567.12,728.60 Z" fill="#000" stroke="#000" stroke-width="0.7" stroke-linejoin="round"/>
<text transform="translate(590.60,771.84) scale(1.2055,1)" font-family="'Liberation Serif', serif" font-weight="normal" font-style="italic" font-size="53.67" fill="#000" stroke="#fff" stroke-width="0.5">B</text>
<rect x="156.20" y="821.35" width="41.00" height="2.30" fill="#000"/>
<text transform="translate(155.00,867.18) scale(1.0616,1)" font-family="'Liberation Serif', serif" font-weight="normal" font-style="italic" font-size="55.85" fill="#000" stroke="#fff" stroke-width="0.5">C</text>
<rect x="215.30" y="848.25" width="33.80" height="2.30" fill="#000"/>
<rect x="215.30" y="857.85" width="33.80" height="2.30" fill="#000"/>
<text transform="translate(265.54,867.18) scale(1.0761,1)" font-family="'Liberation Serif', serif" font-weight="normal" font-style="italic" font-size="56.15" fill="#000" stroke="#fff" stroke-width="0.5">C</text>
<defs><clipPath id="cp1"><rect x="1022" y="160" width="483" height="80"/></clipPath><clipPath id="cp2"><rect x="1022" y="290" width="483" height="75.7"/></clipPath><clipPath id="cp3"><rect x="1022" y="430" width="483" height="85"/></clipPath><clipPath id="cp4"><rect x="1022" y="560" width="483" height="85"/></clipPath></defs>
<text transform="translate(1164.15,162.00) scale(0.9809,1)" font-family="'Liberation Serif', serif" font-weight="normal" font-style="normal" font-size="32.77" fill="#000">Standard RNN</text>
<text transform="translate(1179.28,290.80) scale(0.9546,1)" font-family="'Liberation Serif', serif" font-weight="normal" font-style="normal" font-size="33.29" fill="#000">RNN-Decay</text>
<text transform="translate(1178.87,420.70) scale(0.9917,1)" font-family="'Liberation Serif', serif" font-weight="normal" font-style="normal" font-size="32.53" fill="#000">Neural ODE</text>
<text transform="translate(1187.19,565.80) scale(0.9779,1)" font-family="'Liberation Serif', serif" font-weight="normal" font-style="normal" font-size="32.62" fill="#000">ODE-RNN</text>
<text transform="translate(1233.49,678.60) scale(0.9799,1)" font-family="'Liberation Serif', serif" font-weight="normal" font-style="normal" font-size="28.86" fill="#000">Time</text>
<path d="M 1102.5,236.3 L 1102.5,170.8" stroke="#7F7F7F" stroke-width="2.9" stroke-dasharray="9.8 5.4" fill="none"/>
<path d="M 1162.6,236.3 L 1162.6,170.8" stroke="#7F7F7F" stroke-width="2.9" stroke-dasharray="9.8 5.4" fill="none"/>
<path d="M 1424.3,236.3 L 1424.3,170.8" stroke="#7F7F7F" stroke-width="2.9" stroke-dasharray="9.8 5.4" fill="none"/>
<path d="M 1022.00,230.90 L 1101.00,230.90 L 1104.00,218.50 L 1161.20,218.50 L 1164.20,195.90 L 1423.00,195.90 L 1426.50,182.80 L 1505.00,182.80" fill="none" stroke="#FF7F0C" stroke-opacity="0.85" stroke-width="3.4" stroke-linejoin="round" stroke-linecap="butt" clip-path="url(#cp1)"/>
<path d="M 1022.00,203.30 L 1101.00,203.30 L 1104.00,210.60 L 1161.20,210.60 L 1164.20,202.70 L 1423.00,202.70 L 1426.50,198.80 L 1505.00,198.80" fill="none" stroke="#21A115" stroke-opacity="0.5" stroke-width="3.4" stroke-linejoin="round" stroke-linecap="butt" clip-path="url(#cp1)"/>
<path d="M 1022.00,175.70 L 1101.00,175.70 L 1104.00,186.90 L 1161.20,186.90 L 1164.20,215.60 L 1423.00,215.60 L 1426.50,211.80 L 1505.00,211.80" fill="none" stroke="#1766AB" stroke-opacity="0.9" stroke-width="3.4" stroke-linejoin="round" stroke-linecap="butt" clip-path="url(#cp1)"/>
<path d="M 1007.7,333.2 L 1505,333.2" stroke="#7F7F7F" stroke-width="2.9" stroke-dasharray="9.8 5.4" fill="none" clip-path="url(#cp2)"/>
<path d="M 1102.5,365.7 L 1102.5,300.8" stroke="#7F7F7F" stroke-width="2.9" stroke-dasharray="9.8 5.4" fill="none"/>
<path d="M 1162.6,365.7 L 1162.6,300.8" stroke="#7F7F7F" stroke-width="2.9" stroke-dasharray="9.8 5.4" fill="none"/>
<path d="M 1424.3,365.7 L 1424.3,300.8" stroke="#7F7F7F" stroke-width="2.9" stroke-dasharray="9.8 5.4" fill="none"/>
<path d="M 1060.00,381.97 L 1061.04,380.92 L 1062.08,379.89 L 1063.11,378.88 L 1064.15,377.90 L 1065.19,376.93 L 1066.22,375.99 L 1067.26,375.07 L 1068.30,374.17 L 1069.34,373.28 L 1070.38,372.42 L 1071.41,371.57 L 1072.45,370.75 L 1073.49,369.94 L 1074.53,369.15 L 1075.56,368.37 L 1076.60,367.61 L 1077.64,366.87 L 1078.67,366.15 L 1079.71,365.44 L 1080.75,364.74 L 1081.79,364.06 L 1082.83,363.40 L 1083.86,362.75 L 1084.90,362.11 L 1085.94,361.49 L 1086.97,360.88 L 1088.01,360.28 L 1089.05,359.70 L 1090.09,359.12 L 1091.12,358.57 L 1092.16,358.02 L 1093.20,357.48 L 1094.24,356.96 L 1095.28,356.45 L 1096.31,355.95 L 1097.35,355.46 L 1098.39,354.98 L 1099.42,354.51 L 1100.46,354.05 L 1101.50,353.60 L 1103.80,361.70 L 1105.24,360.63 L 1106.68,359.60 L 1108.13,358.61 L 1109.57,357.66 L 1111.01,356.74 L 1112.45,355.86 L 1113.90,355.01 L 1115.34,354.19 L 1116.78,353.40 L 1118.22,352.65 L 1119.67,351.92 L 1121.11,351.21 L 1122.55,350.54 L 1123.99,349.89 L 1125.44,349.26 L 1126.88,348.66 L 1128.32,348.08 L 1129.76,347.52 L 1131.21,346.99 L 1132.65,346.47 L 1134.09,345.97 L 1135.54,345.49 L 1136.98,345.03 L 1138.42,344.59 L 1139.86,344.16 L 1141.31,343.75 L 1142.75,343.35 L 1144.19,342.97 L 1145.63,342.61 L 1147.08,342.25 L 1148.52,341.91 L 1149.96,341.59 L 1151.40,341.27 L 1152.85,340.97 L 1154.29,340.68 L 1155.73,340.40 L 1157.17,340.13 L 1158.62,339.87 L 1160.06,339.62 L 1161.50,339.38 L 1164.00,311.10 L 1170.47,313.83 L 1176.95,316.23 L 1183.42,318.33 L 1189.90,320.17 L 1196.38,321.78 L 1202.85,323.20 L 1209.33,324.43 L 1215.80,325.52 L 1222.28,326.47 L 1228.75,327.30 L 1235.22,328.03 L 1241.70,328.67 L 1248.17,329.23 L 1254.65,329.72 L 1261.12,330.15 L 1267.60,330.53 L 1274.08,330.86 L 1280.55,331.15 L 1287.03,331.40 L 1293.50,331.63 L 1299.97,331.82 L 1306.45,331.99 L 1312.92,332.14 L 1319.40,332.27 L 1325.88,332.39 L 1332.35,332.49 L 1338.83,332.58 L 1345.30,332.65 L 1351.78,332.72 L 1358.25,332.78 L 1364.72,332.83 L 1371.20,332.88 L 1377.67,332.92 L 1384.15,332.95 L 1390.62,332.98 L 1397.10,333.01 L 1403.58,333.03 L 1410.05,333.05 L 1416.53,333.07 L 1423.00,333.09 L 1426.00,310.00 L 1427.97,310.98 L 1429.95,311.92 L 1431.92,312.82 L 1433.90,313.69 L 1435.88,314.51 L 1437.85,315.30 L 1439.83,316.06 L 1441.80,316.79 L 1443.78,317.48 L 1445.75,318.15 L 1447.72,318.78 L 1449.70,319.39 L 1451.67,319.98 L 1453.65,320.54 L 1455.62,321.07 L 1457.60,321.59 L 1459.58,322.08 L 1461.55,322.55 L 1463.53,323.00 L 1465.50,323.43 L 1467.47,323.85 L 1469.45,324.24 L 1471.42,324.62 L 1473.40,324.98 L 1475.38,325.33 L 1477.35,325.66 L 1479.33,325.98 L 1481.30,326.29 L 1483.28,326.58 L 1485.25,326.86 L 1487.22,327.13 L 1489.20,327.39 L 1491.17,327.63 L 1493.15,327.87 L 1495.12,328.09 L 1497.10,328.31 L 1499.08,328.52 L 1501.05,328.72 L 1503.03,328.91 L 1505.00,329.09" fill="none" stroke="#21A115" stroke-opacity="0.5" stroke-width="3.4" stroke-linejoin="round" stroke-linecap="butt" clip-path="url(#cp2)"/>
<path d="M 1000.00,372.08 L 1004.04,370.68 L 1008.08,369.33 L 1012.11,368.03 L 1016.15,366.77 L 1020.19,365.56 L 1024.22,364.39 L 1028.26,363.27 L 1032.30,362.18 L 1036.34,361.14 L 1040.38,360.13 L 1044.41,359.16 L 1048.45,358.22 L 1052.49,357.32 L 1056.53,356.45 L 1060.56,355.61 L 1064.60,354.80 L 1068.64,354.02 L 1072.67,353.27 L 1076.71,352.55 L 1080.75,351.85 L 1084.79,351.18 L 1088.83,350.53 L 1092.86,349.90 L 1096.90,349.30 L 1100.94,348.72 L 1104.97,348.16 L 1109.01,347.62 L 1113.05,347.10 L 1117.09,346.60 L 1121.12,346.11 L 1125.16,345.65 L 1129.20,345.20 L 1133.24,344.77 L 1137.28,344.35 L 1141.31,343.95 L 1145.35,343.56 L 1149.39,343.19 L 1153.42,342.83 L 1157.46,342.48 L 1161.50,342.14 L 1164.00,322.60 L 1170.47,323.10 L 1176.95,323.58 L 1183.42,324.04 L 1189.90,324.47 L 1196.38,324.89 L 1202.85,325.28 L 1209.33,325.65 L 1215.80,326.01 L 1222.28,326.35 L 1228.75,326.68 L 1235.22,326.99 L 1241.70,327.28 L 1248.17,327.56 L 1254.65,327.83 L 1261.12,328.08 L 1267.60,328.33 L 1274.08,328.56 L 1280.55,328.78 L 1287.03,328.99 L 1293.50,329.19 L 1299.97,329.38 L 1306.45,329.56 L 1312.92,329.73 L 1319.40,329.90 L 1325.88,330.05 L 1332.35,330.20 L 1338.83,330.34 L 1345.30,330.48 L 1351.78,330.61 L 1358.25,330.73 L 1364.72,330.85 L 1371.20,330.96 L 1377.67,331.07 L 1384.15,331.17 L 1390.62,331.26 L 1397.10,331.35 L 1403.58,331.44 L 1410.05,331.53 L 1416.53,331.60 L 1423.00,331.68 L 1427.00,316.00 L 1428.95,316.33 L 1430.90,316.66 L 1432.85,316.98 L 1434.80,317.29 L 1436.75,317.60 L 1438.70,317.90 L 1440.65,318.19 L 1442.60,318.48 L 1444.55,318.77 L 1446.50,319.05 L 1448.45,319.32 L 1450.40,319.59 L 1452.35,319.85 L 1454.30,320.11 L 1456.25,320.36 L 1458.20,320.61 L 1460.15,320.85 L 1462.10,321.09 L 1464.05,321.33 L 1466.00,321.55 L 1467.95,321.78 L 1469.90,322.00 L 1471.85,322.22 L 1473.80,322.43 L 1475.75,322.64 L 1477.70,322.84 L 1479.65,323.04 L 1481.60,323.24 L 1483.55,323.43 L 1485.50,323.62 L 1487.45,323.80 L 1489.40,323.98 L 1491.35,324.16 L 1493.30,324.34 L 1495.25,324.51 L 1497.20,324.68 L 1499.15,324.84 L 1501.10,325.00 L 1503.05,325.16 L 1505.00,325.32" fill="none" stroke="#FF7F0C" stroke-opacity="0.85" stroke-width="3.4" stroke-linejoin="round" stroke-linecap="butt" clip-path="url(#cp2)"/>
<path d="M 1022.00,324.90 L 1023.97,325.10 L 1025.94,325.30 L 1027.91,325.49 L 1029.88,325.68 L 1031.85,325.86 L 1033.82,326.04 L 1035.79,326.21 L 1037.76,326.38 L 1039.73,326.55 L 1041.70,326.71 L 1043.67,326.87 L 1045.64,327.02 L 1047.61,327.17 L 1049.58,327.32 L 1051.55,327.46 L 1053.52,327.60 L 1055.49,327.74 L 1057.46,327.87 L 1059.43,328.00 L 1061.40,328.13 L 1063.37,328.25 L 1065.34,328.37 L 1067.31,328.49 L 1069.28,328.60 L 1071.25,328.72 L 1073.22,328.82 L 1075.19,328.93 L 1077.16,329.03 L 1079.13,329.14 L 1081.10,329.24 L 1083.07,329.33 L 1085.04,329.43 L 1087.01,329.52 L 1088.98,329.61 L 1090.95,329.69 L 1092.92,329.78 L 1094.89,329.86 L 1096.86,329.94 L 1098.83,330.02 L 1100.80,330.10 L 1103.50,305.40 L 1104.95,305.93 L 1106.41,306.45 L 1107.87,306.96 L 1109.32,307.46 L 1110.78,307.95 L 1112.23,308.43 L 1113.68,308.90 L 1115.14,309.36 L 1116.60,309.81 L 1118.05,310.26 L 1119.51,310.69 L 1120.96,311.12 L 1122.41,311.54 L 1123.87,311.95 L 1125.33,312.36 L 1126.78,312.75 L 1128.24,313.14 L 1129.69,313.53 L 1131.14,313.90 L 1132.60,314.27 L 1134.06,314.63 L 1135.51,314.98 L 1136.96,315.33 L 1138.42,315.67 L 1139.88,316.00 L 1141.33,316.33 L 1142.79,316.65 L 1144.24,316.96 L 1145.69,317.27 L 1147.15,317.58 L 1148.61,317.87 L 1150.06,318.16 L 1151.52,318.45 L 1152.97,318.73 L 1154.42,319.01 L 1155.88,319.28 L 1157.34,319.54 L 1158.79,319.80 L 1160.25,320.06 L 1161.70,320.31 L 1164.00,345.00 L 1170.47,344.05 L 1176.95,343.17 L 1183.42,342.37 L 1189.90,341.63 L 1196.38,340.95 L 1202.85,340.32 L 1209.33,339.75 L 1215.80,339.22 L 1222.28,338.73 L 1228.75,338.29 L 1235.22,337.87 L 1241.70,337.50 L 1248.17,337.15 L 1254.65,336.83 L 1261.12,336.54 L 1267.60,336.27 L 1274.08,336.02 L 1280.55,335.79 L 1287.03,335.58 L 1293.50,335.39 L 1299.97,335.21 L 1306.45,335.05 L 1312.92,334.90 L 1319.40,334.77 L 1325.88,334.64 L 1332.35,334.52 L 1338.83,334.42 L 1345.30,334.32 L 1351.78,334.23 L 1358.25,334.14 L 1364.72,334.07 L 1371.20,334.00 L 1377.67,333.93 L 1384.15,333.87 L 1390.62,333.82 L 1397.10,333.77 L 1403.58,333.72 L 1410.05,333.68 L 1416.53,333.64 L 1423.00,333.61 L 1426.00,344.30 L 1427.97,344.03 L 1429.95,343.76 L 1431.92,343.50 L 1433.90,343.25 L 1435.88,343.00 L 1437.85,342.76 L 1439.83,342.53 L 1441.80,342.30 L 1443.78,342.07 L 1445.75,341.85 L 1447.72,341.64 L 1449.70,341.43 L 1451.67,341.23 L 1453.65,341.03 L 1455.62,340.84 L 1457.60,340.65 L 1459.58,340.47 L 1461.55,340.29 L 1463.53,340.12 L 1465.50,339.95 L 1467.47,339.78 L 1469.45,339.62 L 1471.42,339.46 L 1473.40,339.31 L 1475.38,339.16 L 1477.35,339.01 L 1479.33,338.87 L 1481.30,338.73 L 1483.28,338.59 L 1485.25,338.46 L 1487.22,338.33 L 1489.20,338.21 L 1491.17,338.08 L 1493.15,337.96 L 1495.12,337.85 L 1497.10,337.73 L 1499.08,337.62 L 1501.05,337.51 L 1503.03,337.41 L 1505.00,337.30" fill="none" stroke="#1766AB" stroke-opacity="0.9" stroke-width="3.4" stroke-linejoin="round" stroke-linecap="butt" clip-path="url(#cp2)"/>
<path d="M 1102.5,511 L 1102.5,445.8" stroke="#7F7F7F" stroke-width="2.9" stroke-dasharray="9.8 5.4" fill="none"/>
<path d="M 1162.6,511 L 1162.6,445.8" stroke="#7F7F7F" stroke-width="2.9" stroke-dasharray="9.8 5.4" fill="none"/>
<path d="M 1424.3,511 L 1424.3,445.8" stroke="#7F7F7F" stroke-width="2.9" stroke-dasharray="9.8 5.4" fill="none"/>
<path d="M 1012.00,457.50 C 1013.77,457.35 1014.55,457.25 1022.60,456.60 C 1030.65,455.95 1046.95,454.55 1060.30,453.60 C 1073.65,452.65 1090.10,451.50 1102.70,450.90 C 1115.30,450.30 1125.83,450.15 1135.90,450.00 C 1145.97,449.85 1153.02,449.78 1163.10,450.00 C 1173.18,450.22 1185.82,450.57 1196.40,451.30 C 1206.98,452.03 1215.58,453.02 1226.60,454.40 C 1237.62,455.78 1249.38,457.47 1262.50,459.60 C 1275.62,461.73 1290.60,465.43 1305.30,467.20 C 1320.00,468.97 1336.83,470.07 1350.70,470.20 C 1364.57,470.33 1376.15,469.13 1388.50,468.00 C 1400.85,466.87 1412.22,465.42 1424.80,463.40 C 1437.38,461.38 1450.65,457.98 1464.00,455.90 C 1477.35,453.82 1496.57,451.85 1504.90,450.90 C 1513.23,449.95 1512.48,450.32 1514.00,450.20 " fill="none" stroke="#FF7F0C" stroke-opacity="0.85" stroke-width="3.4" stroke-linejoin="round" stroke-linecap="butt" clip-path="url(#cp3)"/>
<path d="M 1012.00,485.50 C 1013.77,484.85 1017.07,483.52 1022.60,481.60 C 1028.13,479.68 1036.38,475.65 1045.20,474.00 C 1054.02,472.35 1065.92,471.95 1075.50,471.70 C 1085.08,471.45 1092.63,471.73 1102.70,472.50 C 1112.77,473.27 1125.83,474.78 1135.90,476.30 C 1145.97,477.82 1153.02,479.22 1163.10,481.60 C 1173.18,483.98 1185.82,487.83 1196.40,490.60 C 1206.98,493.37 1215.58,496.05 1226.60,498.20 C 1237.62,500.35 1250.63,502.37 1262.50,503.50 C 1274.37,504.63 1283.10,505.38 1297.80,505.00 C 1312.50,504.62 1335.58,502.72 1350.70,501.20 C 1365.82,499.68 1376.15,497.47 1388.50,495.90 C 1400.85,494.33 1412.22,492.93 1424.80,491.80 C 1437.38,490.67 1450.65,489.35 1464.00,489.10 C 1477.35,488.85 1496.57,490.03 1504.90,490.30 C 1513.23,490.57 1512.48,490.63 1514.00,490.70 " fill="none" stroke="#21A115" stroke-opacity="0.5" stroke-width="3.4" stroke-linejoin="round" stroke-linecap="butt" clip-path="url(#cp3)"/>
<path d="M 1012.00,505.00 C 1013.77,504.87 1014.55,504.95 1022.60,504.20 C 1030.65,503.45 1046.95,502.25 1060.30,500.50 C 1073.65,498.75 1090.10,496.10 1102.70,493.70 C 1115.30,491.30 1125.83,487.87 1135.90,486.10 C 1145.97,484.33 1153.02,483.73 1163.10,483.10 C 1173.18,482.47 1185.82,482.30 1196.40,482.30 C 1206.98,482.30 1215.58,482.72 1226.60,483.10 C 1237.62,483.48 1249.38,484.10 1262.50,484.60 C 1275.62,485.10 1290.60,485.85 1305.30,486.10 C 1320.00,486.35 1336.83,486.73 1350.70,486.10 C 1364.57,485.47 1376.15,484.07 1388.50,482.30 C 1400.85,480.53 1412.22,477.88 1424.80,475.50 C 1437.38,473.12 1450.65,469.83 1464.00,468.00 C 1477.35,466.17 1496.57,465.17 1504.90,464.50 C 1513.23,463.83 1512.48,464.08 1514.00,464.00 " fill="none" stroke="#1766AB" stroke-opacity="0.9" stroke-width="3.4" stroke-linejoin="round" stroke-linecap="butt" clip-path="url(#cp3)"/>
<path d="M 1102.5,640 L 1102.5,574.8" stroke="#7F7F7F" stroke-width="2.9" stroke-dasharray="9.8 5.4" fill="none"/>
<path d="M 1162.6,640 L 1162.6,574.8" stroke="#7F7F7F" stroke-width="2.9" stroke-dasharray="9.8 5.4" fill="none"/>
<path d="M 1424.3,640 L 1424.3,574.8" stroke="#7F7F7F" stroke-width="2.9" stroke-dasharray="9.8 5.4" fill="none"/>
<path d="M 1015.00,604.80 C 1016.18,604.78 1016.73,604.78 1022.10,604.70 C 1027.47,604.62 1038.72,604.52 1047.20,604.30 C 1055.68,604.08 1064.03,603.93 1073.00,603.40 C 1081.97,602.87 1096.33,601.48 1101.00,601.10  L 1103.50,629.80 C 1113.17,628.47 1140.42,625.45 1161.50,621.80 C 1182.58,618.15 1207.00,612.53 1230.00,607.90 C 1253.00,603.27 1278.42,598.05 1299.50,594.00 C 1320.58,589.95 1335.83,586.55 1356.50,583.60 C 1377.17,580.65 1412.33,577.52 1423.50,576.30  L 1425.80,622.80 C 1438.97,620.15 1490.43,609.78 1504.80,606.90 C 1519.17,604.02 1510.80,605.73 1512.00,605.50 " fill="none" stroke="#21A115" stroke-opacity="0.5" stroke-width="3.4" stroke-linejoin="round" stroke-linecap="butt" clip-path="url(#cp4)"/>
<path d="M 1012.00,637.80 C 1013.68,637.27 1017.30,636.15 1022.10,634.60 C 1026.90,633.05 1034.47,630.32 1040.80,628.50 C 1047.13,626.68 1053.65,624.98 1060.10,623.70 C 1066.55,622.42 1072.62,621.45 1079.50,620.80 C 1086.38,620.15 1093.95,620.03 1101.40,619.80 C 1108.85,619.57 1116.37,619.27 1124.20,619.40 C 1132.03,619.53 1142.15,620.20 1148.40,620.60 C 1154.65,621.00 1159.48,621.60 1161.70,621.80  L 1164.50,611.00 C 1166.42,611.42 1170.63,612.50 1176.00,613.50 C 1181.37,614.50 1189.20,616.08 1196.70,617.00 C 1204.20,617.92 1212.12,618.73 1221.00,619.00 C 1229.88,619.27 1240.17,619.00 1250.00,618.60 C 1259.83,618.20 1270.00,617.43 1280.00,616.60 C 1290.00,615.77 1299.47,614.40 1310.00,613.60 C 1320.53,612.80 1334.03,611.80 1343.20,611.80 C 1352.37,611.80 1357.20,612.48 1365.00,613.60 C 1372.80,614.72 1380.33,616.73 1390.00,618.50 C 1399.67,620.27 1417.50,623.25 1423.00,624.20  L 1425.60,606.90 C 1427.38,606.97 1431.20,607.02 1436.30,607.30 C 1441.40,607.58 1449.55,608.60 1456.20,608.60 C 1462.85,608.60 1468.10,608.58 1476.20,607.30 C 1484.30,606.02 1498.83,602.28 1504.80,600.90 C 1510.77,599.52 1510.80,599.32 1512.00,599.00 " fill="none" stroke="#FF7F0C" stroke-opacity="0.85" stroke-width="3.4" stroke-linejoin="round" stroke-linecap="butt" clip-path="url(#cp4)"/>
<path d="M 1012.00,617.50 C 1013.68,618.05 1019.45,619.93 1022.10,620.80 C 1024.75,621.67 1025.53,622.22 1027.90,622.70 C 1030.27,623.18 1033.08,623.87 1036.30,623.70 C 1039.52,623.53 1043.23,623.00 1047.20,621.70 C 1051.17,620.40 1055.80,618.20 1060.10,615.90 C 1064.40,613.60 1068.70,610.80 1073.00,607.90 C 1077.30,605.00 1081.27,601.88 1085.90,598.50 C 1090.53,595.12 1098.32,589.42 1100.80,587.60  L 1103.30,623.70 C 1104.77,622.18 1108.62,617.93 1112.10,614.60 C 1115.58,611.27 1120.17,607.13 1124.20,603.70 C 1128.23,600.27 1132.27,596.92 1136.30,594.00 C 1140.33,591.08 1144.28,588.52 1148.40,586.20 C 1152.52,583.88 1158.90,581.12 1161.00,580.10  L 1164.70,610.30 C 1166.00,609.20 1169.18,605.70 1172.50,603.70 C 1175.82,601.70 1180.57,599.62 1184.60,598.30 C 1188.63,596.98 1191.65,596.42 1196.70,595.80 C 1201.75,595.18 1208.85,594.45 1214.90,594.60 C 1220.95,594.75 1225.95,595.58 1233.00,596.70 C 1240.05,597.82 1249.13,599.93 1257.20,601.30 C 1265.27,602.67 1273.72,604.12 1281.40,604.90 C 1289.08,605.68 1296.33,605.67 1303.30,606.00 C 1310.27,606.33 1316.55,607.08 1323.20,606.90 C 1329.85,606.72 1336.55,606.12 1343.20,604.90 C 1349.85,603.68 1356.45,601.82 1363.10,599.60 C 1369.75,597.38 1376.45,594.27 1383.10,591.60 C 1389.75,588.93 1396.35,586.15 1403.00,583.60 C 1409.65,581.05 1419.67,577.52 1423.00,576.30  L 1425.60,594.90 C 1427.38,594.02 1431.20,591.92 1436.30,589.60 C 1441.40,587.28 1449.55,583.10 1456.20,581.00 C 1462.85,578.90 1470.65,577.78 1476.20,577.00 C 1481.75,576.22 1484.73,576.20 1489.50,576.30 C 1494.27,576.40 1501.05,577.25 1504.80,577.60 C 1508.55,577.95 1510.80,578.27 1512.00,578.40 " fill="none" stroke="#1766AB" stroke-opacity="0.9" stroke-width="3.4" stroke-linejoin="round" stroke-linecap="butt" clip-path="url(#cp4)"/>
</svg>
</body></html>
